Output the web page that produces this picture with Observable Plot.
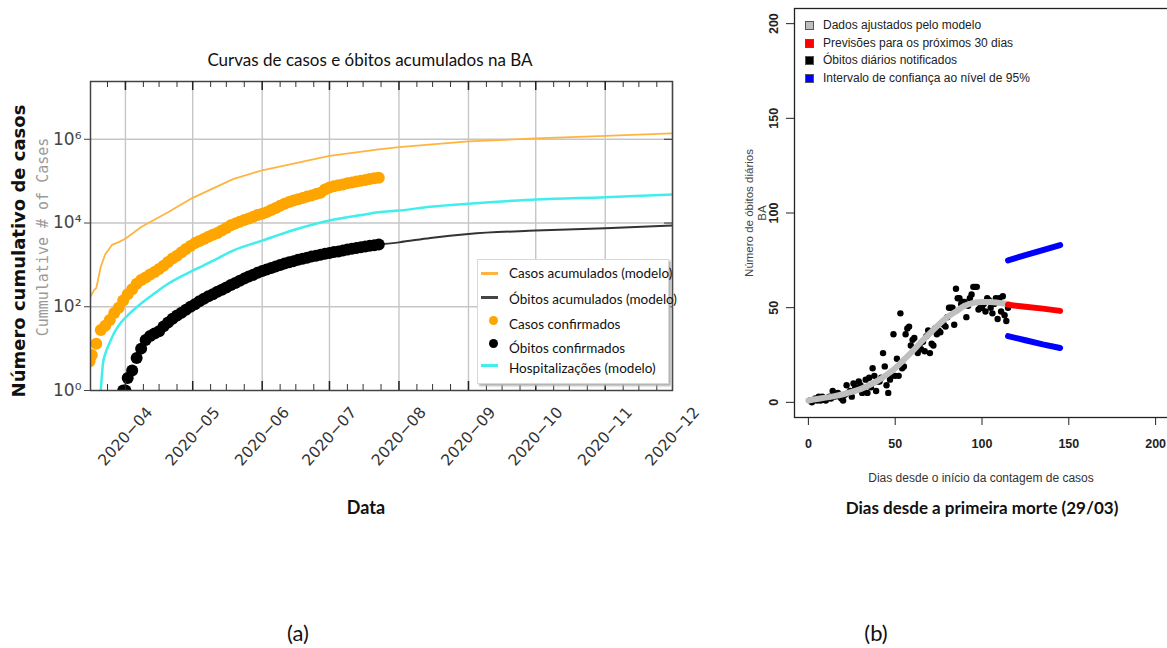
<!DOCTYPE html>
<html><head><meta charset="utf-8">
<script src="https://cdn.jsdelivr.net/npm/d3@7"></script>
<script src="https://cdn.jsdelivr.net/npm/@observablehq/plot@0.6"></script>
<style>
html,body{margin:0;padding:0;background:#fff;width:1167px;height:648px;overflow:hidden;position:relative;}
.abs{position:absolute;white-space:nowrap;}
.c{transform:translate(-50%,-50%);}
.lat{font-family:Lato,"Open Sans",sans-serif;}
</style></head><body>
<div id="pa" class="abs" style="left:0;top:0;width:720px;height:480px"></div>
<div id="pb" class="abs" style="left:700px;top:0;width:470px;height:460px"></div>

<div class="abs c lat" style="left:370px;top:59px;font-size:17px;color:#111">Curvas de casos e óbitos acumulados na BA</div>
<div class="abs" style="left:18px;top:251px;transform:translate(-50%,-50%) rotate(-90deg);font-family:'DejaVu Sans';font-weight:bold;font-size:18px;color:#111">Número cumulativo de casos</div>
<div class="abs" style="left:43px;top:237px;transform:translate(-50%,-50%) rotate(-90deg);font-family:'DejaVu Sans Mono';font-size:15px;color:#9a9a9a">Cummulative # of Cases</div>
<div class="abs c lat" style="left:366px;top:507px;font-size:18px;font-weight:bold;color:#111">Data</div>

<div id="lega" class="abs" style="left:477px;top:259px;width:190px;height:123px;border:1px solid #d8d8d8;box-shadow:2px 2px 2px #b0b0b0;background:#fff"></div>

<div class="abs" style="left:749px;top:213px;transform:translate(-50%,-50%) rotate(-90deg);font-family:'Liberation Sans';font-size:11.5px;color:#444">Número de óbitos diários</div>
<div class="abs" style="left:762px;top:213px;transform:translate(-50%,-50%) rotate(-90deg);font-family:'Liberation Sans';font-size:11.5px;color:#444">BA</div>
<div class="abs c" style="left:981px;top:478px;font-family:'Liberation Sans';font-size:12px;color:#333">Dias desde o início da contagem de casos</div>
<div class="abs c lat" style="left:982px;top:507px;font-size:17px;font-weight:bold;color:#111">Dias desde a primeira morte (29/03)</div>
<div id="legb" class="abs" style="left:803px;top:16px;font-family:'Liberation Sans';font-size:12px;color:#222"></div>

<div class="abs c lat" style="left:298px;top:632px;font-size:22px;color:#111">(a)</div>
<div class="abs c lat" style="left:876px;top:632px;font-size:22px;color:#111">(b)</div>

<script>
// ---------- Panel (a) data ----------
const mesesTicks = ["2020-04-01","2020-05-01","2020-06-01","2020-07-01","2020-08-01","2020-09-01","2020-10-01","2020-11-01","2020-12-01"];
const semanasDias = [1, 9, 16, 24];
const semanasMeses = ["2020-03","2020-04","2020-05","2020-06","2020-07","2020-08","2020-09","2020-10","2020-11"];
const decadas = [1, 1e2, 1e4, 1e6];
const decadasLabels = ["10⁰", "10²", "10⁴", "10⁶"];

const casosModeloDatas = ["2020-03-16","2020-03-18","2020-03-19","2020-03-21","2020-03-23","2020-03-26","2020-03-29","2020-04-01","2020-04-08","2020-04-20","2020-05-01","2020-05-19","2020-06-01","2020-07-01","2020-07-23","2020-08-01","2020-09-01","2020-10-01","2020-11-01","2020-12-01"];
const casosModelo = [160,250,280,900,1800,3000,3500,4200,8000,18000,40000,112000,182000,400000,575000,650000,890000,1050000,1200000,1380000];

const obitosModeloDatas = ["2020-07-23","2020-08-01","2020-08-15","2020-09-01","2020-10-01","2020-11-01","2020-12-01"];
const obitosModelo = [3050,3450,4400,5500,6600,7500,8700];

const hospDatas = ["2020-03-21","2020-03-22","2020-03-23","2020-03-25","2020-03-27","2020-03-30","2020-04-03","2020-04-08","2020-04-14","2020-04-20","2020-05-01","2020-05-10","2020-05-19","2020-06-01","2020-06-15","2020-07-01","2020-07-15","2020-07-23","2020-08-01","2020-08-15","2020-09-01","2020-10-01","2020-11-01","2020-12-01"];
const hosp = [1,4.5,7.5,14,24,42,70,120,210,355,730,1250,2200,3800,6800,11500,15500,18000,19800,24500,29000,36300,41500,48000];

const casosDatas = ["03-16","03-17","03-19","03-21","03-23","03-25","03-27","03-29","03-31","04-02","04-04","04-06","04-08","04-10","04-12","04-14","04-16","04-18","04-20","04-22","04-24","04-26","04-28","04-30","05-02","05-04","05-06","05-08","05-10","05-12","05-14","05-16","05-18","05-20","05-22","05-24","05-26","05-28","05-30","06-01","06-03","06-05","06-07","06-09","06-11","06-13","06-15","06-17","06-19","06-21","06-23","06-25","06-27","06-29","07-01","07-03","07-05","07-07","07-09","07-11","07-13","07-15","07-17","07-19","07-21","07-23"];
const casosConfirmados = [5,7,13,28,35,48,71,95,141,200,263,355,436,500,590,676,794,955,1175,1413,1660,1995,2400,2818,3311,3715,4170,4677,5250,5750,6600,7585,8900,9800,10700,11750,12900,14100,15500,16600,18200,20400,22900,25700,28800,31600,34700,37150,39800,42700,45700,49000,52500,63100,70800,75900,79400,83200,89100,93300,97700,102300,107000,112200,117500,120200];

const obitosDatas = ["03-31","04-01","04-02","04-04","04-06","04-08","04-10","04-12","04-14","04-16","04-18","04-20","04-22","04-24","04-26","04-28","04-30","05-02","05-04","05-06","05-08","05-10","05-12","05-14","05-16","05-18","05-20","05-22","05-24","05-26","05-28","05-30","06-01","06-03","06-05","06-07","06-09","06-11","06-13","06-15","06-17","06-19","06-21","06-23","06-25","06-27","06-29","07-01","07-03","07-05","07-07","07-09","07-11","07-13","07-15","07-17","07-19","07-21","07-23"];
const obitosConfirmados = [1,1,2,3,6,10,16,20,23,26,34,42,52,62,72,85,100,115,135,155,178,200,228,255,290,330,370,420,470,525,580,650,715,780,840,920,1000,1080,1150,1230,1320,1400,1490,1580,1660,1750,1840,1930,2020,2100,2210,2330,2430,2530,2630,2740,2850,2950,3050];

// ---------- Panel (b) data ----------
const obitosDiarios = [1,0,1,2,1,3,1,3,2,1,2,3,2,6,3,4,5,3,2,1,4,9,5,6,3,10,8,7,11,9,
  5,6,12,5,13,8,18,14,6,11,11,13,26,19,9,5,12,14,36,14,23,14,47,18,19,36,39,40,30,33,
  34,28,26,30,28,32,27,35,38,26,31,30,39,36,38,37,42,41,40,45,50,50,50,41,60,55,55,52,53,53,
  45,51,55,57,61,61,61,49,50,50,52,48,55,54,50,47,52,55,44,55,48,56,46,43,50];
const ajusteDias = [0,5,10,15,20,25,30,35,40,45,50,55,60,65,70,75,80,85,90,95,100,105,110,115];
const ajuste = [1,1.8,2.5,3.3,4.3,5.5,7,9,11.5,14.5,18,22.5,27,32,36.5,41,45,48,51,52.5,53,53,52.5,52];
const previsaoDias = [115,125,135,145];
const previsao = [51.5,50.5,49.5,48.3];
const icSuperior = [75,77.7,80.4,83];
const icInferior = [35,32.8,30.6,28.7];
const ticksB = [0,50,100,150,200];

const legendaA = [
  {label:"Casos acumulados (modelo)", tipo:"linha", cor:"#FFB440"},
  {label:"Óbitos acumulados (modelo)", tipo:"linha", cor:"#454545"},
  {label:"Casos confirmados", tipo:"ponto", cor:"#FFA500"},
  {label:"Óbitos confirmados", tipo:"ponto", cor:"#000"},
  {label:"Hospitalizações (modelo)", tipo:"linha", cor:"#40EEEE"}
];
const legendaB = [
  {label:"Dados ajustados pelo modelo", cor:"#bebebe"},
  {label:"Previsões para os próximos 30 dias", cor:"#ff0000"},
  {label:"Óbitos diários notificados", cor:"#000000"},
  {label:"Intervalo de confiança ao nível de 95%", cor:"#0000ff"}
];

// ---------- build ----------
const p = d3.utcParse("%Y-%m-%d");
const serie = (ds, vs, pre="") => ds.map((d,i) => ({date: p(pre + d), v: vs[i]}));
const casosM = serie(casosModeloDatas, casosModelo);
const obitosM = serie(obitosModeloDatas, obitosModelo);
const hospM = serie(hospDatas, hosp);
const casosC = serie(casosDatas, casosConfirmados, "2020-");
const obitosC = serie(obitosDatas, obitosConfirmados, "2020-");
const meses = mesesTicks.map(p);
const semanas = semanasMeses.flatMap(m => semanasDias.slice(1).map(d => p(`${m}-${String(d).padStart(2,"0")}`))).filter(d => d > p("2020-03-17"));
const xDomainA = [new Date(Date.UTC(2020,2,16,10)), p("2020-12-01")];
const yMaxA = Math.pow(10, 7.38);

const W = 720, H = 480, mL = 90, mR = 48, mT = 81, mB = 90;
const fw = W - mL - mR, fh = H - mT - mB;
const labFmt = d3.utcFormat("%Y−%m");

const plotA = Plot.plot({
  width: W, height: H, marginLeft: mL, marginRight: mR, marginTop: mT, marginBottom: mB,
  x: {type: "utc", domain: xDomainA, axis: null},
  y: {type: "log", domain: [1, yMaxA]},
  style: {fontFamily: "DejaVu Sans", background: "transparent", overflow: "visible", maxWidth: "none"},
  marks: [
    Plot.ruleX(meses, {x: d => d, stroke: "#c6c6c6", strokeWidth: 1.4}),
    Plot.ruleY(decadas.slice(1), {y: d => d, stroke: "#c6c6c6", strokeWidth: 1.4}),
    Plot.line(hospM, {x: "date", y: "v", stroke: "#40EEEE", strokeWidth: 2.5, curve: "monotone-x", clip: true}),
    Plot.line(casosM, {x: "date", y: "v", stroke: "#FFB440", strokeWidth: 1.8, clip: true}),
    Plot.line(obitosM, {x: "date", y: "v", stroke: "#333", strokeWidth: 2, curve: "monotone-x", clip: true}),
    Plot.dot(casosC, {x: "date", y: "v", r: 6, fill: "#FFA500", clip: true}),
    Plot.dot(obitosC, {x: "date", y: "v", r: 6, fill: "#000", clip: true}),
    Plot.frame({stroke: "#444", strokeWidth: 1.5}),
    Plot.tickX(semanas, {x: d => d, insetTop: fh - 6, stroke: "#333"}),
    Plot.tickX(semanas, {x: d => d, insetBottom: fh - 6, stroke: "#333"}),
    Plot.tickX(meses.slice(0, -1), {x: d => d, insetTop: fh - 9, stroke: "#222", strokeWidth: 1.5}),
    Plot.tickX(meses.slice(0, -1), {x: d => d, insetBottom: fh - 9, stroke: "#222", strokeWidth: 1.5}),
    Plot.tickY(decadas.slice(1), {y: d => d, insetLeft: fw - 8, stroke: "#333"}),
    Plot.axisY({ticks: decadas, tickSize: 6, tickPadding: 3, label: null, fontSize: 17, color: "#444",
      tickFormat: d => decadasLabels[decadas.indexOf(d)]}),
    Plot.text(meses, {x: d => d, frameAnchor: "bottom", dy: 46, rotate: -48, textAnchor: "middle", lineAnchor: "middle",
      text: d => labFmt(d), fontSize: 15.5, fill: "#333"})
  ]
});
document.getElementById("pa").appendChild(plotA);

// legend a
const lg = document.getElementById("lega");
const legY = [13, 39, 64, 88, 108];
const markY = [13, 37, 60, 83, 105];
legendaA.forEach((e, i) => {
  const t = document.createElement("div");
  t.className = "abs lat";
  t.style.cssText = `left:31px;top:${legY[i]}px;transform:translateY(-50%);font-size:13.5px;color:#111`;
  t.textContent = e.label;
  lg.appendChild(t);
  const m = document.createElement("div");
  m.className = "abs";
  if (e.tipo === "linha") m.style.cssText = `left:3px;top:${markY[i]-1.5}px;width:17px;height:3px;background:${e.cor}`;
  else m.style.cssText = `left:11px;top:${markY[i]-4.5}px;width:9px;height:9px;border-radius:50%;background:${e.cor}`;
  lg.appendChild(m);
});

// ---------- Panel (b) ----------
const obitosB = obitosDiarios.map((v, i) => ({dia: i + 1, v}));
const ajusteB = ajusteDias.map((d, i) => ({dia: d, v: ajuste[i]}));
const prevB = previsaoDias.map((d, i) => ({dia: d, v: previsao[i]}));
const supB = previsaoDias.map((d, i) => ({dia: d, v: icSuperior[i]}));
const infB = previsaoDias.map((d, i) => ({dia: d, v: icInferior[i]}));

const plotB = Plot.plot({
  width: 470, height: 460, marginLeft: 94, marginRight: 1, marginTop: 8, marginBottom: 43,
  x: {domain: [-8, 208]},
  y: {domain: [-8, 208]},
  style: {fontFamily: "Liberation Sans", background: "transparent", overflow: "visible", maxWidth: "none"},
  marks: [
    Plot.dot(obitosB, {x: "dia", y: "v", r: 3.2, fill: "#000"}),
    Plot.line(ajusteB, {x: "dia", y: "v", stroke: "#bebebe", strokeWidth: 6, curve: "monotone-x"}),
    Plot.line(prevB, {x: "dia", y: "v", stroke: "#ff0000", strokeWidth: 6}),
    Plot.line(supB, {x: "dia", y: "v", stroke: "#0000ff", strokeWidth: 6}),
    Plot.line(infB, {x: "dia", y: "v", stroke: "#0000ff", strokeWidth: 6}),
    Plot.frame({stroke: "#222", strokeWidth: 1.3}),
    Plot.axisX({ticks: ticksB, tickSize: 8, tickFormat: () => "", label: null, stroke: "#222"}),
    Plot.axisY({ticks: ticksB, tickSize: 8, tickFormat: () => "", label: null, stroke: "#222"}),
    Plot.text(ticksB, {x: d => d, frameAnchor: "bottom", dy: 26, lineAnchor: "middle", text: d => String(d),
      fontSize: 12.5, fontWeight: "bold", fill: "#222"}),
    Plot.text(ticksB, {y: d => d, frameAnchor: "left", dx: -21, rotate: -90, textAnchor: "middle", lineAnchor: "middle",
      text: d => String(d), fontSize: 12.5, fontWeight: "bold", fill: "#222"})
  ]
});
document.getElementById("pb").appendChild(plotB);

const lb = document.getElementById("legb");
legendaB.forEach((e, i) => {
  const y = 9 + i * 17.5;
  const s = document.createElement("div");
  s.className = "abs";
  s.style.cssText = `left:2px;top:${y-4}px;width:7px;height:7px;border:1px solid #555;background:${e.cor}`;
  lb.appendChild(s);
  const t = document.createElement("div");
  t.className = "abs";
  t.style.cssText = `left:20px;top:${y}px;transform:translateY(-50%)`;
  t.textContent = e.label;
  lb.appendChild(t);
});
</script>
</body></html>
